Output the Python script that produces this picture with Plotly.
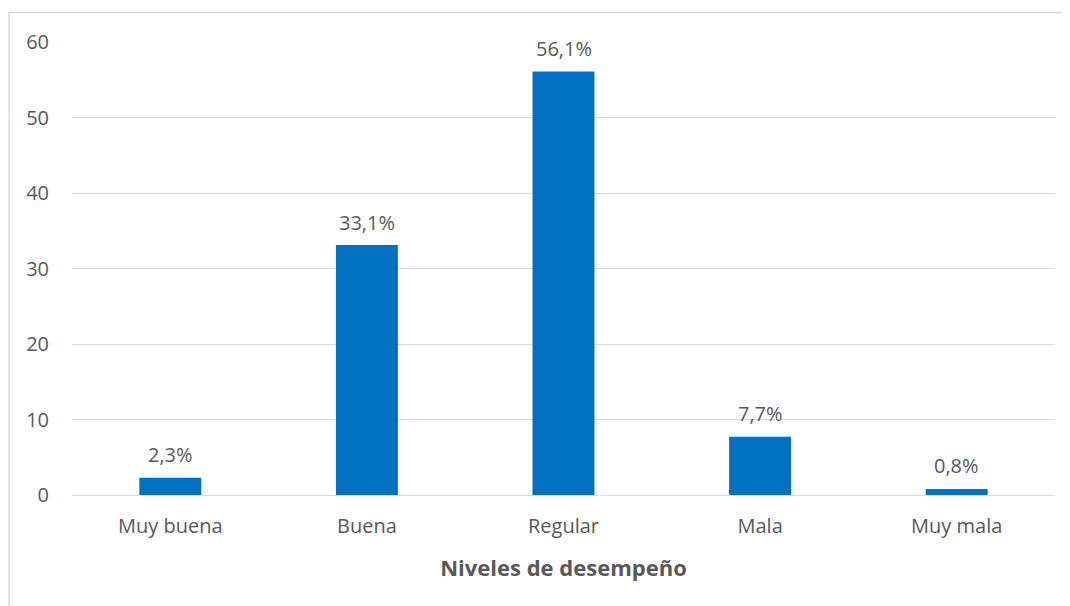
import plotly.graph_objects as go

categories = ["Muy buena", "Buena", "Regular", "Mala", "Muy mala"]
values = [2.3, 33.1, 56.1, 7.7, 0.8]
labels = ["2,3%", "33,1%", "56,1%", "7,7%", "0,8%"]
y_ticks = [0, 10, 20, 30, 40, 50, 60]

font_family = "Open Sans, Liberation Sans, sans-serif"
text_color = "#595959"

fig = go.Figure(go.Bar(
    x=categories, y=values,
    marker=dict(color="#0070C0", line=dict(width=0)),
))

for c, v, t in zip(categories, values, labels):
    fig.add_annotation(x=c, y=v, text=t, showarrow=False, yanchor="middle",
                       yshift=23, font=dict(family=font_family, size=20, color=text_color))

fig.update_layout(
    width=1070, height=606,
    margin=dict(l=64, r=23, t=34, b=119),
    paper_bgcolor="white", plot_bgcolor="white",
    bargap=0.685,
    showlegend=False,
    font=dict(family=font_family, size=20, color=text_color),
    xaxis=dict(
        showgrid=False, showline=False, ticks="", automargin=False,
        ticklabelstandoff=17,
        tickfont=dict(size=20, color=text_color),
        title=dict(text="<b>Niveles de desempeño</b>", standoff=22,
                   font=dict(size=22, color=text_color)),
    ),
    yaxis=dict(
        range=[0, 60], tickvals=y_ticks, showgrid=True, gridcolor="#D9D9D9",
        gridwidth=1, zeroline=True, zerolinecolor="#D9D9D9", zerolinewidth=1,
        showline=False, ticks="", ticklabelstandoff=22, automargin=False,
        tickfont=dict(size=20, color=text_color),
    ),
    shapes=[dict(type="rect", xref="paper", yref="paper",
                 x0=-0.064, x1=1.2, y0=-0.5, y1=1.065,
                 line=dict(color="#D9D9D9", width=1.5), layer="below")],
)

fig.write_html("out.html")
